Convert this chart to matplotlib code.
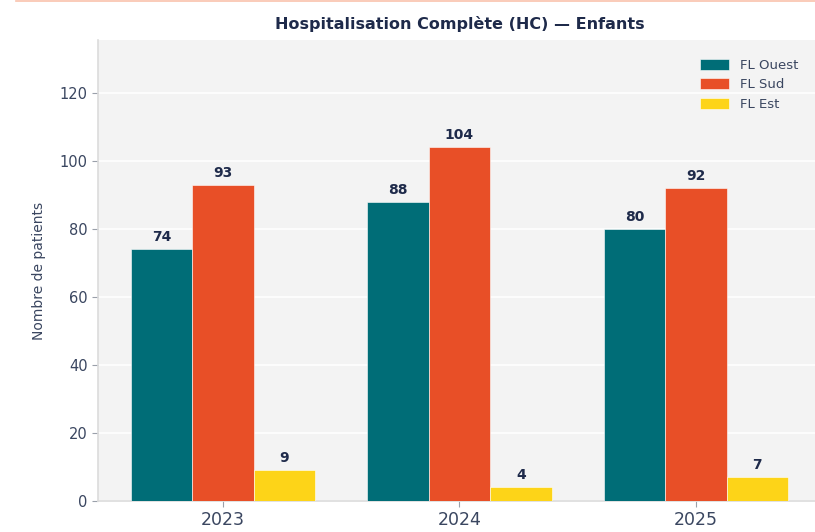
import matplotlib.pyplot as plt
import numpy as np

# data
years = ['2023', '2024', '2025']
ouest = [74, 88, 80]
sud = [93, 104, 92]
est = [9, 4, 7]
series = ['FL Ouest', 'FL Sud', 'FL Est']
colors = ['#006d77', '#e84f27', '#fdd418']

navy = '#1e2a4a'

fig = plt.figure(figsize=(8.15, 5.32), dpi=100)
# thin salmon line along the top of the picture
fig.add_artist(plt.Line2D([0.02, 1.0], [0.998, 0.998], color='#f9c2ad', lw=1.2))

ax = fig.add_axes([0.1202, 0.0583, 0.887, 0.8665])
ax.set_facecolor('#f3f3f3')

x = np.arange(len(years))
w = 0.26
for i, (vals, name, c) in enumerate(zip([ouest, sud, est], series, colors)):
    bars = ax.bar(x + (i - 1) * w, vals, w, color=c, label=name,
                  edgecolor='white', linewidth=0.4, zorder=3)
    for b, v in zip(bars, vals):
        ax.text(b.get_x() + b.get_width() / 2, v + 1.5, str(v), ha='center', va='bottom',
                fontsize=10, fontweight='bold', color=navy, zorder=4)

ax.set_ylim(0, 135.6)
ax.set_xlim(-0.529, 2.529)
ax.set_yticks([0, 20, 40, 60, 80, 100, 120])
ax.set_xticks(x)
ax.set_xticklabels(years)
ax.tick_params(axis='y', labelsize=10.5, color='#9aa0aa', labelcolor='#3a4660', length=4)
ax.tick_params(axis='x', labelsize=12.5, color='#9aa0aa', labelcolor='#3a4660', length=4)
ax.grid(axis='y', color='white', linewidth=1.2, zorder=0)
ax.set_axisbelow(True)
for s in ['top', 'right']:
    ax.spines[s].set_visible(False)
for s in ['left', 'bottom']:
    ax.spines[s].set_color('#dcdcdc')
    ax.spines[s].set_linewidth(1.2)

ax.set_ylabel('Nombre de patients', fontsize=10, color='#3a4660', labelpad=10)
ax.set_title('Hospitalisation Complète (HC) — Enfants', fontsize=11.5, fontweight='bold',
             color=navy, pad=8)

leg = ax.legend(loc='upper right', bbox_to_anchor=(0.985, 0.985), frameon=False,
                fontsize=9.5, handlelength=2.2, handleheight=0.9, labelspacing=0.5)
for t in leg.get_texts():
    t.set_color('#3a4660')

fig.savefig('out.png', dpi=100)
